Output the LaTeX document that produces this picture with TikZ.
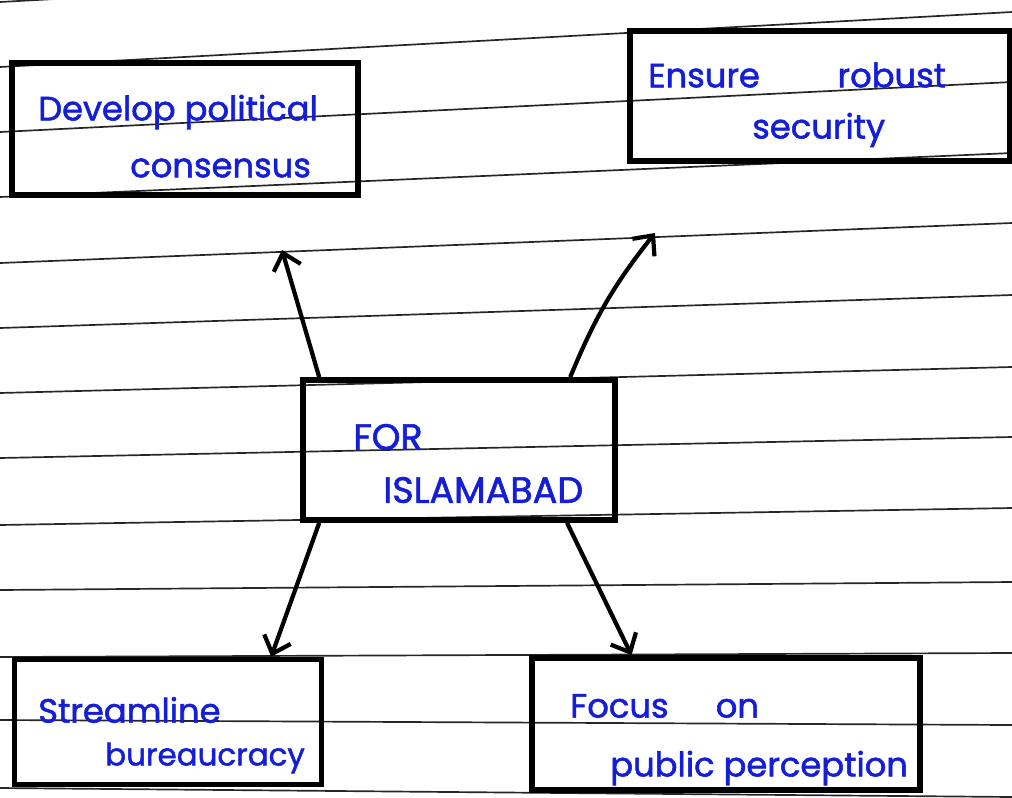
\documentclass[tikz,border=0pt]{standalone}
\usepackage{fontspec}
\setmainfont{Poppins}[UprightFeatures={FakeBold=1.6}]
\usetikzlibrary{calc}
\usetikzlibrary{arrows.meta}
\definecolor{penblue}{RGB}{20,30,215}
\tikzset{
   rule/.style={draw=black!85, line width=1.2pt},
   idea/.style={draw=black, line width=4pt, rectangle, inner sep=0pt},
   hand/.style={text=penblue, anchor=west, inner sep=0pt,
      font=\fontsize{24}{26}\selectfont},
   pointer/.style={draw=black, line width=3pt,
      -{Straight Barb[length=11pt,width=20pt,line width=3pt]}},
    }

\begin{document}
\begin{tikzpicture}[x=0.025cm, y=-0.025cm]
            \useasboundingbox (0,0) rectangle (1012,797);
            % ruled paper
            \begin{scope}
            \clip (0,0) rectangle (1012,797);
            \foreach \yl/\yr in {2/-53,67/12,132/82,197/153,263/223,328/295,393/367,
                                 458/437,525/508,590/582,657/653,720/725,788/797}
               \draw[rule] (0,\yl) -- (1012,\yr);
            \end{scope}
            % boxes
            \node[idea, minimum width=8.65cm, minimum height=3.3cm] (consensus) at (185,129) {};
            \node[idea, minimum width=9.5cm, minimum height=3.25cm] (security) at (820,96) {};
            \node[idea, minimum width=7.8cm, minimum height=3.5cm] (islamabad) at (459,450) {};
            \node[idea, minimum width=7.675cm, minimum height=3.125cm] (bureau) at (168,722) {};
            \node[idea, minimum width=9.7cm, minimum height=3.3cm] (public) at (726,724) {};
            % texts
            \node[hand] (t1) at (38,112) {Develop political};
            \node[hand] (t2) at (130,168) {consensus};
            \node[hand] (t3) at (648,75) {Ensure\hspace{2.3em}robust};
            \node[hand] (t4) at (752,130) {security};
            \node[hand, font=\fontsize{26}{28}\selectfont] (t5) at (353,437) {FOR};
            \node[hand, font=\fontsize{26}{28}\selectfont] (t6) at (383,490) {ISLAMABAD};
            \node[hand] (t7) at (38,710) {Streamline};
            \node[hand, font=\fontsize{22}{24}\selectfont] (t8) at (105,758) {bureaucracy};
            \node[hand] (t9) at (570,706) {Focus\hspace{1.4em}on};
            \node[hand] (t10) at (610,768) {public perception};
            % arrows
            \coordinate (up1) at (282,250);
            \coordinate (up2) at (655,233);
            \draw[pointer] ($(islamabad.north west)!0.06!(islamabad.north east)$) -- (up1);
            \draw[pointer] ($(islamabad.north west)!0.85!(islamabad.north east)$) to[bend left=8] (up2);
            \draw[pointer] ($(islamabad.south west)!0.06!(islamabad.south east)$)
               -- ($(bureau.north west)!0.83!(bureau.north east)$);
            \draw[pointer] ($(islamabad.south west)!0.84!(islamabad.south east)$)
               -- ($(public.north west)!0.26!(public.north east)$);
        \end{tikzpicture}
\end{document}
